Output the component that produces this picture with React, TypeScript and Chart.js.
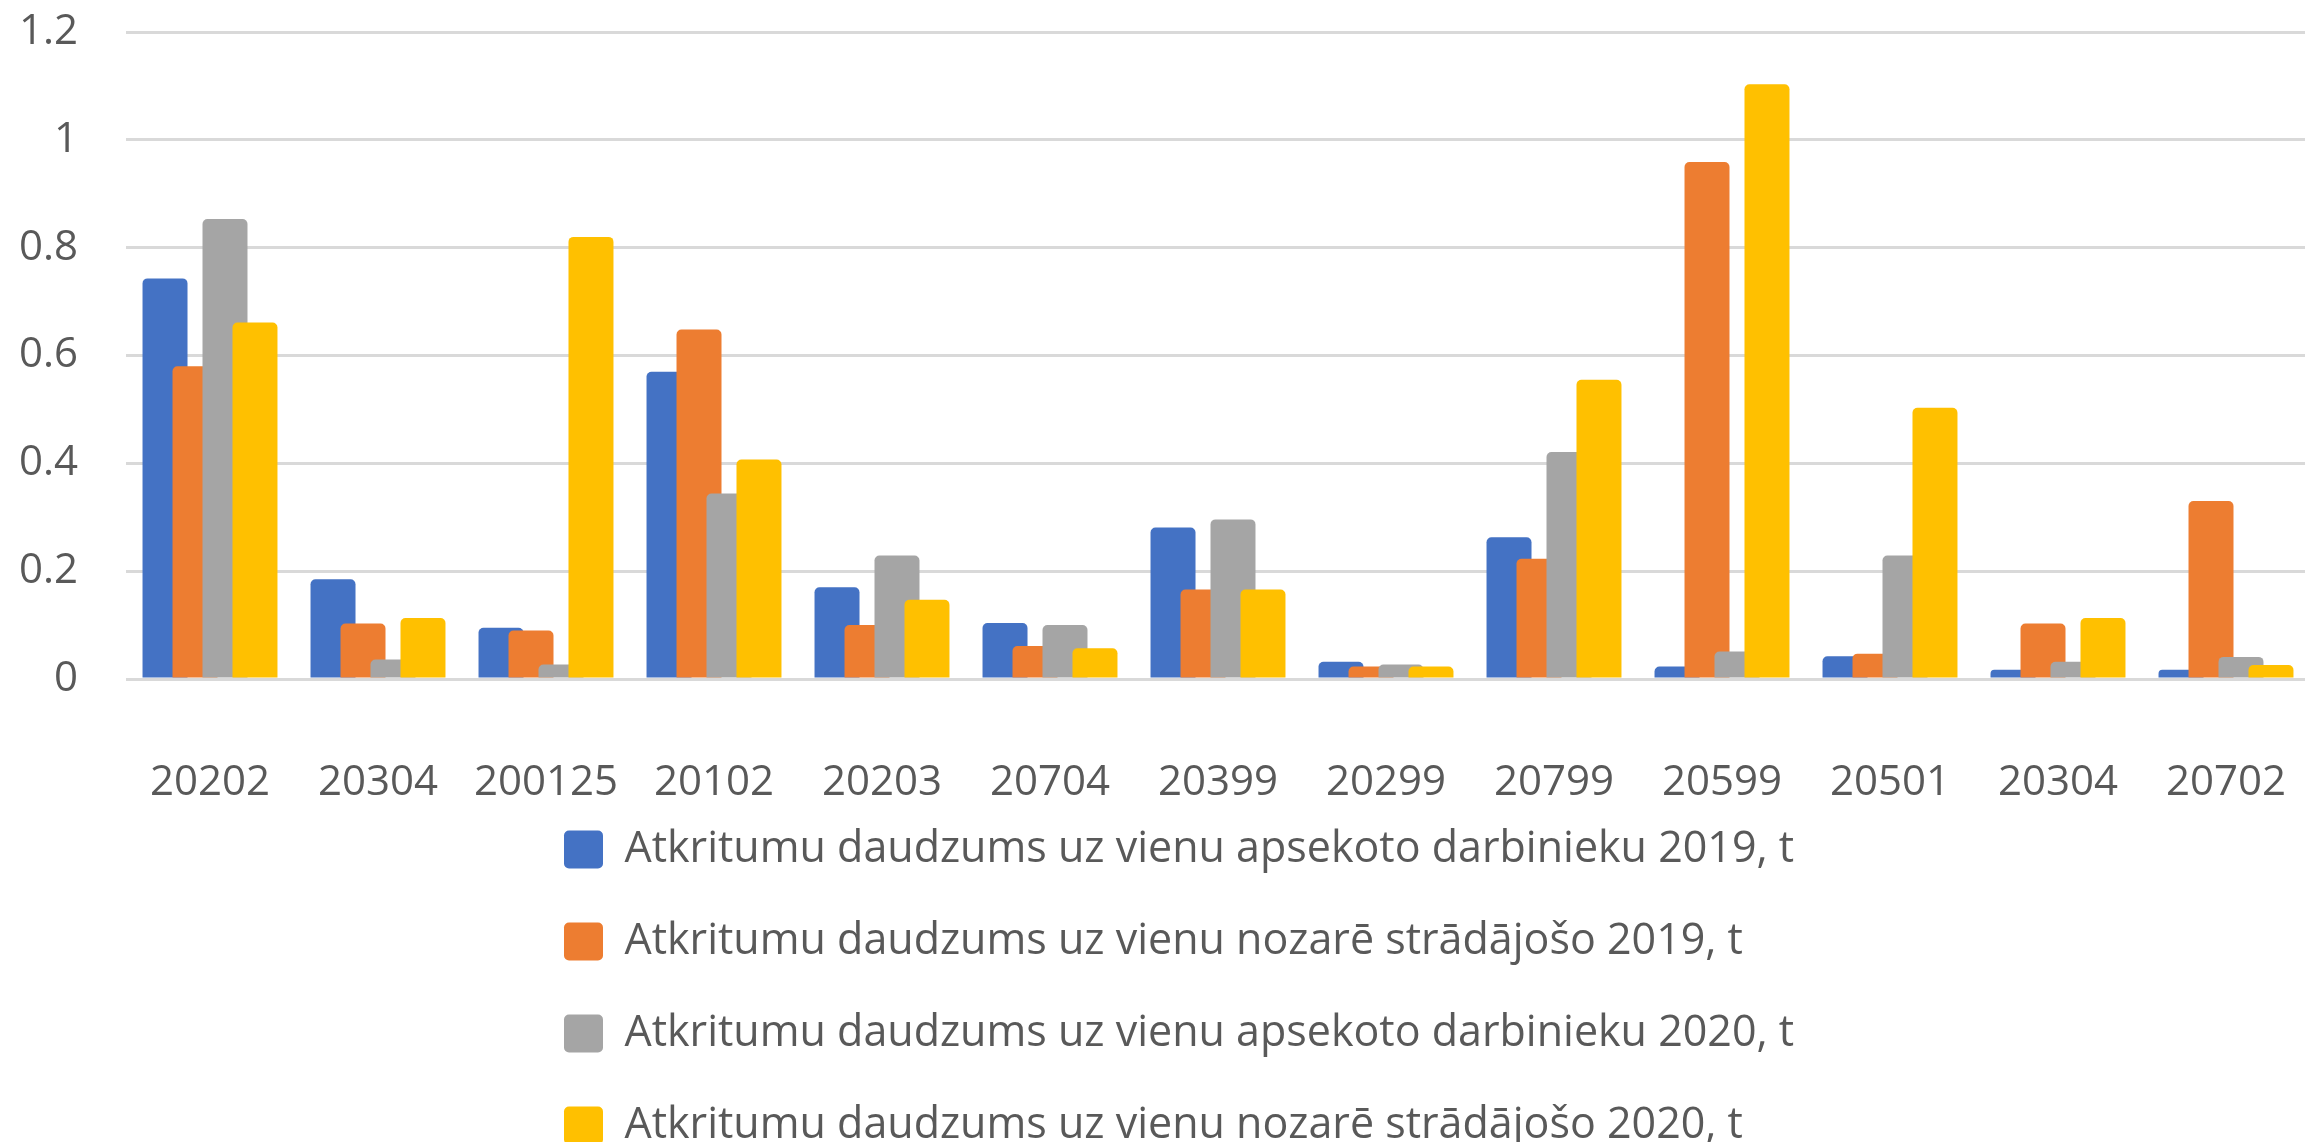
import React, { useEffect, useRef } from "react";
import { Chart, registerables } from "chart.js";

Chart.register(...registerables);

const categories = ["20202", "20304", "200125", "20102", "20203", "20704", "20399", "20299", "20799", "20599", "20501", "20304", "20702"];

const seriesLabels = [
  "Atkritumu daudzums uz vienu apsekoto darbinieku 2019, t",
  "Atkritumu daudzums uz vienu nozarē strādājošo 2019, t",
  "Atkritumu daudzums uz vienu apsekoto darbinieku 2020, t",
  "Atkritumu daudzums uz vienu nozarē strādājošo 2020, t",
];

const apsekoto2019 = [0.743, 0.185, 0.095, 0.57, 0.17, 0.104, 0.281, 0.032, 0.263, 0.023, 0.042, 0.017, 0.017];
const nozare2019 = [0.58, 0.103, 0.09, 0.648, 0.1, 0.061, 0.166, 0.023, 0.223, 0.959, 0.047, 0.103, 0.33];
const apsekoto2020 = [0.853, 0.036, 0.027, 0.344, 0.229, 0.1, 0.296, 0.027, 0.421, 0.051, 0.229, 0.032, 0.041];
const nozare2020 = [0.661, 0.113, 0.82, 0.407, 0.147, 0.057, 0.166, 0.023, 0.555, 1.103, 0.503, 0.113, 0.026];

const yMin = 0;
const yMax = 1.2;
const yStep = 0.2;

const seriesValues = [apsekoto2019, nozare2019, apsekoto2020, nozare2020];
const seriesColors = ["#4472C4", "#ED7D31", "#A5A5A5", "#FFC000"];

const FONT = "'Open Sans', sans-serif";
const TEXT = "#595959";

// draw datasets in forward order so later series overlap earlier ones (Excel style)
const drawOrderPlugin = {
  id: "drawOrder",
  beforeDatasetsDraw(chart: any) {
    const ctx = chart.ctx;
    const a = chart.chartArea;
    ctx.save();
    ctx.beginPath();
    ctx.rect(a.left, 0, a.right - a.left + 10, a.bottom + 2);
    ctx.clip();
    for (let i = 0; i < chart.data.datasets.length; i++) {
      const meta = chart.getDatasetMeta(i);
      if (!meta.hidden) meta.controller.draw();
    }
    ctx.restore();
    return false;
  },
};

const LEGEND_BOX_LEFT = 564;
const LEGEND_PAD = 49;
const X_AXIS_HEIGHT = 150;
const LEGEND_LIFT = 50;

const legendShiftPlugin = {
  id: "legendShift",
  afterLayout(chart: any) {
    if (chart.legend) {
      chart.legend.left = LEGEND_BOX_LEFT - LEGEND_PAD;
      chart.legend.top = chart.legend.top - LEGEND_LIFT;
    }
  },
};

export default function App() {
  const ref = useRef<HTMLCanvasElement>(null);
  useEffect(() => {
    document.body.style.margin = "0";
    document.body.style.overflow = "hidden";
    const chart = new Chart(ref.current as HTMLCanvasElement, {
      type: "bar",
      data: {
        labels: categories,
        datasets: seriesLabels.map((label, i) => ({
          label,
          data: seriesValues[i],
          backgroundColor: seriesColors[i],
          borderWidth: 0,
          borderRadius: 5,
          categoryPercentage: 0.714,
          barPercentage: 1.5,
        })),
      },
      options: {
        responsive: false,
        animation: false,
        devicePixelRatio: 1,
        layout: { padding: { top: 32, right: 2, left: 0, bottom: 0 } },
        plugins: {
          legend: {
            position: "bottom",
            align: "start",
            labels: {
              font: { family: FONT, size: 43 },
              color: TEXT,
              boxWidth: 39,
              boxHeight: 38,
              padding: LEGEND_PAD,
              useBorderRadius: true,
              borderRadius: 5,
            },
          },
          tooltip: { enabled: false },
        },
        scales: {
          x: {
            grid: {
              display: true,
              drawOnChartArea: false,
              drawTicks: true,
              tickLength: 79,
              color: "rgba(0,0,0,0)",
              tickColor: "rgba(0,0,0,0)",
            },
            border: { display: false },
            ticks: {
              font: { family: FONT, size: 42 },
              color: TEXT,
              maxRotation: 0,
              autoSkip: false,
              padding: 0,
            },
            afterFit: (s: any) => {
              s.height = X_AXIS_HEIGHT;
            },
          },
          y: {
            min: yMin,
            max: yMax,
            ticks: {
              stepSize: yStep,
              font: { family: FONT, size: 42 },
              color: TEXT,
              padding: 0,
              callback: (v: any) => String(Number(Number(v).toFixed(1))),
            },
            grid: {
              color: "#D9D9D9",
              lineWidth: 3,
              drawTicks: true,
              tickLength: 48,
              tickColor: "rgba(0,0,0,0)",
            },
            border: { display: false },
            afterFit: (s: any) => {
              s.width = 126;
            },
          },
        },
      },
      plugins: [drawOrderPlugin, legendShiftPlugin],
    });
    return () => chart.destroy();
  }, []);
  return (
    <div style={{ position: "absolute", left: 0, top: 0, width: 2305, height: 1142, overflow: "hidden", background: "#fff" }}>
      <canvas ref={ref} width={2312} height={1207} style={{ display: "block" }} />
    </div>
  );
}
